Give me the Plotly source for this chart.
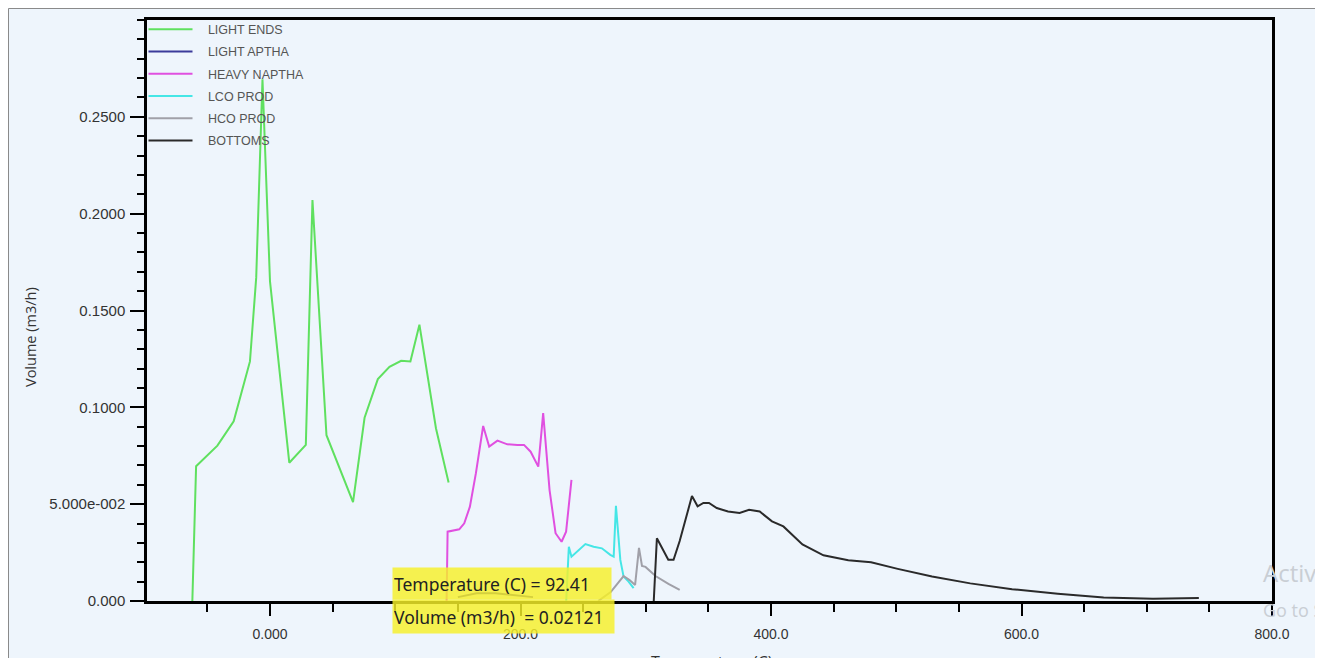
import plotly.graph_objects as go

# ---------------- data ----------------
series_names = ["LIGHT ENDS", "LIGHT APTHA", "HEAVY NAPTHA", "LCO PROD", "HCO PROD", "BOTTOMS"]

le_temp = [-62, -59, -42, -29, -16, -11, -6, 0, 15.4, 28.6, 33.9, 45.1, 66.3, 75.5, 86.1, 95.4, 104.7, 112.1, 119.3, 132.5, 142.6]
le_vol = [0.0, 0.0696, 0.0802, 0.0928, 0.1237, 0.1671, 0.2694, 0.165, 0.0714, 0.0806, 0.207, 0.0856, 0.0511, 0.0946, 0.1146, 0.1209, 0.124, 0.1237, 0.1427, 0.0892, 0.0612]

la_temp = [150, 165, 180, 195, 210]
la_vol = [0.002, 0.004, 0.004, 0.003, 0.002]

hn_temp = [141, 141.8, 151.1, 155.1, 159.6, 164.4, 170.2, 175, 181.6, 189.5, 197.5, 202.8, 208.1, 214.2, 218.1, 223.2, 228, 232.8, 236.4, 240.7]
hn_vol = [0.0, 0.0358, 0.037, 0.0401, 0.0487, 0.066, 0.0904, 0.0797, 0.0828, 0.0809, 0.0806, 0.0806, 0.0771, 0.0694, 0.097, 0.0573, 0.035, 0.0306, 0.0358, 0.0625]

lco_temp = [236.5, 238.6, 240.7, 245.2, 251.8, 258.4, 265, 271.7, 274.4, 276.2, 279.7, 282.3, 286.3, 290.3]
lco_vol = [0.0, 0.028, 0.0229, 0.0255, 0.0294, 0.028, 0.0272, 0.0238, 0.0229, 0.0491, 0.0212, 0.0126, 0.010, 0.0066]

hco_temp = [262, 272, 282.3, 287.1, 291.5, 294.6, 297, 299.8, 307.8, 318.1, 327.1]
hco_vol = [0.0, 0.0046, 0.0129, 0.0108, 0.0083, 0.0274, 0.0181, 0.0176, 0.0129, 0.0088, 0.0057]

bt_temp = [306.4, 308.9, 318, 322.2, 327.1, 336.9, 341.4, 346, 350.5, 356.7, 365.7, 374.9, 382.5, 391,
           400.8, 409.9, 425.1, 441.9, 461.7, 479.9, 501.2, 528.6, 559.1, 592.5, 629, 665.6, 705, 741.6]
bt_vol = [0.0, 0.0324, 0.0213, 0.0213, 0.031, 0.0542, 0.0489, 0.0506, 0.0506, 0.048, 0.0462, 0.0455, 0.0471, 0.0462,
          0.0411, 0.0385, 0.0292, 0.0236, 0.021, 0.02, 0.0166, 0.0126, 0.0091, 0.0061, 0.0038, 0.0018, 0.0012, 0.0015]

x_tickvals = [0, 200, 400, 600, 800]
x_ticktext = ["0.000", "200.0", "400.0", "600.0", "800.0"]
y_tickvals = [0, 0.05, 0.10, 0.15, 0.20, 0.25]
y_ticktext = ["0.000", "5.000e-002", "0.1000", "0.1500", "0.2000", "0.2500"]

tooltip_lines = ["Temperature (C) = 92.41", "Volume (m3/h)  = 0.02121"]

# ---------------- styles ----------------
colors = ["#5fe05f", "#3b3b9a", "#e050e0", "#45e6e6", "#a0a0a8", "#2a2a2a"]
series = [(le_temp, le_vol), (la_temp, la_vol), (hn_temp, hn_vol),
          (lco_temp, lco_vol), (hco_temp, hco_vol), (bt_temp, bt_vol)]

BG = "#eef5fc"
OFF = 8                      # default page body margin
W, H = 1323 - OFF, 658 - OFF
PLOT_L, PLOT_R, PLOT_T, PLOT_B = 147, 1272, 20, 601   # page pixels of the plot frame
L, T = PLOT_L - OFF, PLOT_T - OFF
R, B = 1323 - PLOT_R, 658 - PLOT_B
PW = PLOT_R - PLOT_L
PH = PLOT_B - PLOT_T


def px_x(px):
    return (px - PLOT_L) / PW


def px_y(py):
    return (PLOT_B - py) / PH


fig = go.Figure()
for i, (name, (xs, ys), c) in enumerate(zip(series_names, series, colors)):
    fig.add_trace(go.Scatter(
        x=xs, y=ys, mode="lines", name="\u00a0\u00a0\u00a0" + name,
        line=dict(color=c, width=2),
        legendgroup="g%d" % i,
    ))

fig.update_xaxes(
    range=[-98.2, 800], tickmode="array", tickvals=x_tickvals, ticktext=x_ticktext,
    showgrid=False, zeroline=False, showline=True, linecolor="black", linewidth=2.5,
    mirror=True, ticks="outside", ticklen=12, tickwidth=1.5, tickcolor="black",
    tickfont=dict(family="Liberation Sans, Arial, sans-serif", size=14, color="#333333"),
    ticklabelstandoff=6,
    minor=dict(dtick=50, tick0=0, ticks="outside", ticklen=8, tickwidth=1.5, tickcolor="black", showgrid=False),
)
fig.update_yaxes(
    range=[0, 0.3], tickmode="array", tickvals=y_tickvals, ticktext=y_ticktext,
    showgrid=False, zeroline=False, showline=True, linecolor="black", linewidth=2.5,
    mirror=True, ticks="outside", ticklen=14, tickwidth=1.5, tickcolor="black",
    tickfont=dict(family="Liberation Sans, Arial, sans-serif", size=15, color="#333333"),
    ticklabelstandoff=2,
    minor=dict(dtick=0.01, tick0=0, ticks="outside", ticklen=7, tickwidth=1.5, tickcolor="black", showgrid=False),
)

annotations = [
    dict(text="Volume (m3/h)", xref="paper", yref="paper", x=px_x(30), y=px_y(337),
         textangle=-90, showarrow=False, xanchor="center", yanchor="middle",
         font=dict(family="Open Sans, sans-serif", size=14.5, color="#333333")),
    dict(text="Temperature (C)", xref="paper", yref="paper", x=px_x(712), y=px_y(649),
         showarrow=False, xanchor="center", yanchor="top",
         font=dict(family="Open Sans, sans-serif", size=16, color="#333333")),
    dict(text="Activate Windows", xref="paper", yref="paper", x=px_x(1261), y=px_y(572),
         showarrow=False, xanchor="left", yanchor="middle",
         font=dict(family="Open Sans, sans-serif", size=24, color="#c9ced4")),
    dict(text="Go to Settings to activate Windows.", xref="paper", yref="paper", x=px_x(1261), y=px_y(610),
         showarrow=False, xanchor="left", yanchor="middle",
         font=dict(family="Open Sans, sans-serif", size=18, color="#c9ced4")),
    dict(text=tooltip_lines[0], xref="paper", yref="paper", x=px_x(392), y=px_y(567),
         showarrow=False, xanchor="left", yanchor="top", align="left",
         width=216, height=29, borderpad=1, bgcolor="rgba(246,240,40,0.82)",
         font=dict(family="Noto Sans, Open Sans, sans-serif", size=17.5, color="#222222")),
    dict(text=tooltip_lines[1], xref="paper", yref="paper", x=px_x(392), y=px_y(599),
         showarrow=False, xanchor="left", yanchor="top", align="left",
         width=219, height=31, borderpad=1, bgcolor="rgba(246,240,40,0.82)",
         font=dict(family="Noto Sans, Open Sans, sans-serif", size=17.5, color="#222222")),
]

fig.update_layout(
    width=W, height=H,
    margin=dict(l=L, r=R, t=T, b=B, autoexpand=False),
    paper_bgcolor=BG, plot_bgcolor=BG,
    showlegend=True,
    legend=dict(x=px_x(143.5), y=px_y(14.5), xanchor="left", yanchor="top",
                bgcolor="rgba(0,0,0,0)", borderwidth=0,
                font=dict(family="Liberation Sans, Arial, sans-serif", size=12.5, color="#555555"),
                tracegroupgap=3, itemwidth=44, traceorder="grouped"),
    annotations=annotations,
    shapes=[dict(type="rect", xref="paper", yref="paper",
                 x0=px_x(8.5), x1=px_x(1316), y0=px_y(720), y1=px_y(8.5),
                 line=dict(color="#8a8a8a", width=1), fillcolor="rgba(0,0,0,0)", layer="below")],
)

fig.write_html("out.html")
